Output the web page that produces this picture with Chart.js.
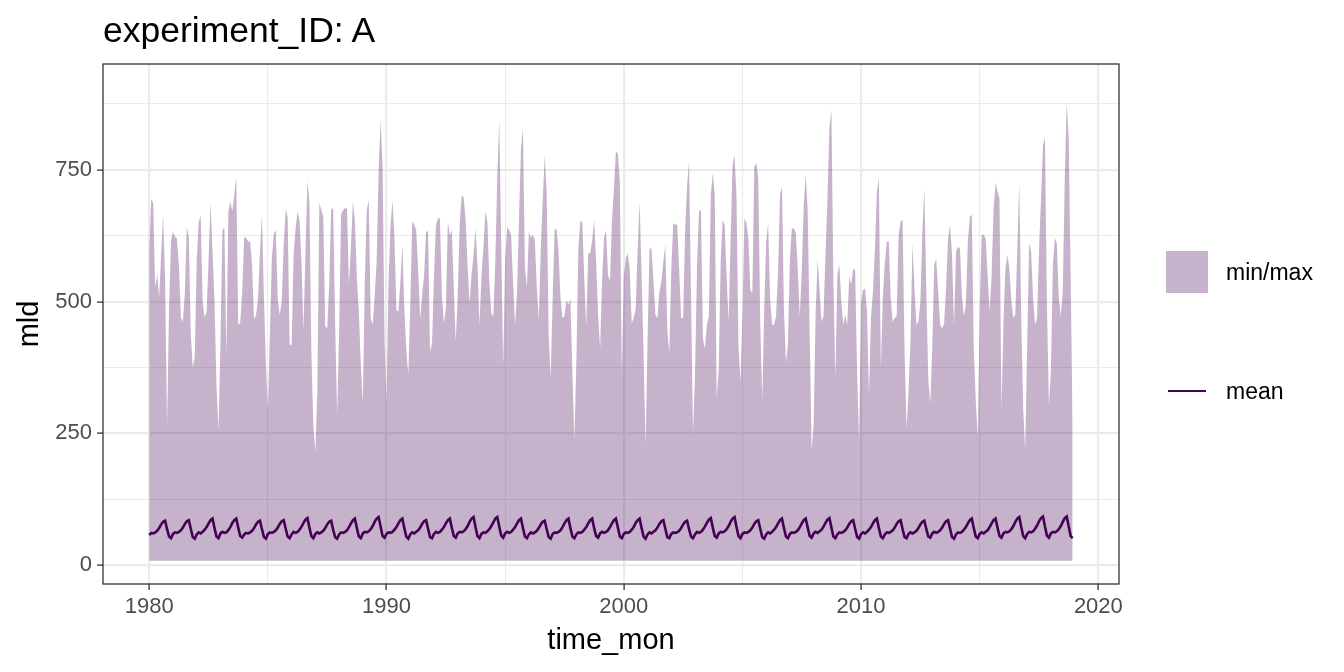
<!DOCTYPE html>
<html>
<head>
<meta charset="utf-8">
<script src="https://cdn.jsdelivr.net/npm/chart.js@4.4.0/dist/chart.umd.min.js"></script>
<style>
  html, body { margin: 0; padding: 0; background: #fff; }
  #wrap { position: relative; width: 1344px; height: 672px; font-family: "Liberation Sans", Arial, sans-serif; }
  #chart { position: absolute; left: 0; top: 0; }
  #title { position: absolute; left: 103px; top: 13px; font-size: 35.5px; line-height: 1; color: #000; white-space: nowrap; }
  .key-row { position: absolute; left: 1166px; height: 42px; display: flex; align-items: center; font-size: 23px; color: #000; }
  .key-box { width: 42px; height: 42px; background: rgba(68,1,84,0.3); }
  .key-line-wrap { width: 42px; height: 42px; display: flex; align-items: center; justify-content: center; }
  .key-line { width: 38px; height: 2.6px; background: #440154; }
  .key-row span { margin-left: 18px; }
</style>
</head>
<body>
<div id="wrap">
  <canvas id="chart" width="1344" height="672"></canvas>
  <div id="title">experiment_ID: A</div>
  <div class="key-row" style="top:251px"><div class="key-box"></div><span>min/max</span></div>
  <div class="key-row" style="top:370px"><div class="key-line-wrap"><div class="key-line"></div></div><span>mean</span></div>
</div>
<script>
const START_YEAR = 1980;          // first month = Jan 1980, one value per month
const RIBBON_MIN = 8;             // lower edge of the min/max band

// monthly max of mld, Jan 1980 .. Dec 2018
const maxMld = [
  595,695,687,527,552,508,590,665,540,266,486,615,633,623,620,566,470,462,517,642,623,440,375,396,
  579,651,664,500,470,481,582,687,595,500,342,256,424,636,640,396,671,690,672,703,737,456,
  460,518,622,621,614,614,570,466,475,506,597,666,506,383,297,440,582,629,636,503,475,500,608,675,
  660,418,418,589,639,671,655,573,446,595,729,690,402,263,215,332,687,674,661,453,449,533,675,678,462,
  285,440,665,674,677,677,532,604,690,655,544,481,380,307,540,674,693,469,456,510,576,750,845,756,
  427,307,540,642,693,621,484,481,537,608,487,408,361,494,652,646,636,563,466,513,551,633,633,405,
  421,551,646,658,658,513,459,487,652,626,636,529,424,513,646,703,697,655,566,497,551,589,639,570,
  456,548,604,671,652,537,478,472,576,734,848,604,380,582,642,636,626,537,456,518,658,791,829,563,
  528,633,621,627,617,527,466,601,693,778,706,437,354,506,636,639,595,506,469,472,503,494,506,367,
  237,386,601,652,652,544,453,592,592,617,655,576,475,411,540,621,636,551,538,652,715,785,781,728,
  364,547,582,592,563,459,469,487,598,690,551,402,228,427,601,601,538,475,469,519,538,576,608,446,
  402,560,649,646,646,560,469,469,633,722,766,513,250,358,566,671,674,430,411,456,472,703,744,703,
  316,373,579,655,646,547,462,617,760,778,699,418,348,475,658,649,620,522,516,756,763,734,462,313,
  487,614,649,506,456,456,472,557,703,718,481,386,418,582,639,639,630,560,472,560,684,741,674,440,
  218,266,478,582,525,462,472,589,696,832,864,535,354,551,570,500,456,475,456,548,532,563,560,364,
  237,500,522,525,481,323,469,519,601,709,734,373,510,573,614,614,506,462,469,472,627,652,655,405,
  259,329,430,611,525,456,462,500,633,715,519,351,307,415,570,582,519,456,449,459,528,620,646,589,
  453,595,604,601,510,472,494,614,661,665,408,313,244,487,627,627,620,551,481,548,677,725,709,696,
  294,462,563,589,563,500,469,475,601,728,469,297,218,418,611,595,506,456,469,601,696,797,810,494,
  304,367,570,621,611,506,472,519,731,880,810,548,256
];

// monthly mean of mld, one row per year 1980 .. 2018
const meanMld = [
  57,61,60,62,65,70,77,82,84,68,54,51,
  59,62,61,63,66,71,78,83,85,69,53,50,
  58,62,60,63,67,72,79,85,88,70,54,51,
  60,63,61,62,66,72,80,85,88,71,55,52,
  58,61,60,62,65,70,77,82,84,68,53,50,
  59,62,61,63,66,71,78,83,85,69,54,51,
  58,63,61,63,67,73,80,86,89,71,55,51,
  59,62,60,62,65,70,77,82,84,67,53,50,
  58,62,61,63,66,72,79,85,88,70,54,51,
  60,63,62,64,68,74,82,88,91,73,55,52,
  59,62,61,63,67,72,79,85,88,70,54,50,
  58,62,60,63,66,71,78,83,85,69,53,51,
  59,63,61,63,67,72,79,85,88,71,55,52,
  60,63,62,64,68,74,82,88,91,72,55,51,
  59,62,61,64,68,74,81,88,91,73,56,52,
  60,63,61,63,67,72,79,85,88,70,54,51,
  58,62,60,62,65,70,77,82,84,68,53,50,
  59,62,61,63,66,72,79,85,88,70,54,51,
  58,62,61,63,67,72,79,85,88,70,55,52,
  60,63,61,63,66,72,79,85,88,71,54,51,
  59,62,61,63,67,72,80,85,88,70,54,50,
  58,62,60,63,66,71,78,83,85,69,53,51,
  59,62,61,62,65,70,77,82,84,68,54,51,
  58,63,61,63,67,73,80,86,89,71,55,52,
  60,63,62,64,68,74,82,88,91,72,55,51,
  59,62,61,63,66,71,78,83,85,69,53,50,
  58,62,60,63,67,72,79,85,88,70,54,51,
  59,62,61,63,66,72,79,85,88,71,55,52,
  60,63,61,64,67,73,80,86,89,71,54,51,
  58,62,61,63,66,71,78,83,85,69,53,50,
  59,62,60,63,67,72,79,85,88,70,54,51,
  58,62,61,63,66,71,78,83,85,68,53,51,
  59,62,60,62,65,70,77,82,84,68,54,52,
  60,63,61,63,66,71,78,83,85,69,53,50,
  58,62,61,63,67,72,79,85,88,70,54,51,
  59,62,60,63,66,72,79,85,88,71,55,52,
  60,63,62,64,68,74,82,88,91,72,55,51,
  59,63,62,64,69,75,83,89,92,73,56,52,
  60,63,62,64,68,74,82,89,92,73,55,51
];

const xGridYears  = [1980, 1985, 1990, 1995, 2000, 2005, 2010, 2015, 2020];
const xTickLabels = [1980, 1990, 2000, 2010, 2020];
const yGridValues = [0, 125, 250, 375, 500, 625, 750, 875];
const yTickLabels = [0, 250, 500, 750];

const ribbonFill = 'rgba(68,1,84,0.3)';
const meanColour = '#440154';

Chart.defaults.font.family = '"Liberation Sans", Arial, sans-serif';

const toPoints = arr => arr.map((v, i) => ({ x: START_YEAR + i / 12, y: v }));

const panelBorder = {
  id: 'panelBorder',
  afterDraw(chart) {
    const { ctx, chartArea: a } = chart;
    ctx.save();
    ctx.strokeStyle = '#333333';
    ctx.lineWidth = 1.3;
    ctx.strokeRect(a.left, a.top, a.right - a.left, a.bottom - a.top);
    ctx.restore();
  }
};

function axisGrid(labels) {
  const major = c => c.tick && labels.includes(c.tick.value);
  return {
    color: '#ebebeb',
    lineWidth: c => major(c) ? 2.2 : 1.1,
    tickColor: c => major(c) ? '#333333' : 'rgba(0,0,0,0)',
    tickWidth: 1.3,
    tickLength: 6,
    drawTicks: true
  };
}

new Chart(document.getElementById('chart').getContext('2d'), {
  type: 'line',
  data: {
    datasets: [
      {
        label: 'mean',
        data: toPoints(meanMld),
        borderColor: meanColour,
        borderWidth: 2.6,
        pointRadius: 0,
        tension: 0,
        fill: false,
        order: 1
      },
      {
        label: 'min/max',
        data: toPoints(maxMld),
        borderColor: 'rgba(0,0,0,0)',
        borderWidth: 0,
        backgroundColor: ribbonFill,
        pointRadius: 0,
        tension: 0,
        fill: { value: RIBBON_MIN },
        order: 2
      }
    ]
  },
  options: {
    responsive: false,
    animation: false,
    layout: { padding: { left: 0, right: 225, top: 64, bottom: 0 } },
    plugins: { legend: { display: false }, tooltip: { enabled: false } },
    scales: {
      x: {
        type: 'linear',
        min: 1978.05,
        max: 2020.87,
        afterBuildTicks: s => { s.ticks = xGridYears.map(v => ({ value: v })); },
        afterFit: s => { s.height = 88; },
        ticks: {
          autoSkip: false, maxRotation: 0, padding: 4,
          color: '#4d4d4d', font: { size: 22 },
          callback: v => xTickLabels.includes(v) ? String(v) : ''
        },
        grid: axisGrid(xTickLabels),
        border: { display: false },
        title: { display: true, text: 'time_mon', color: '#000', font: { size: 29 }, padding: { top: 0, bottom: 14 } }
      },
      y: {
        type: 'linear',
        min: -36,
        max: 951,
        afterBuildTicks: s => { s.ticks = yGridValues.map(v => ({ value: v })); },
        afterFit: s => { s.width = 103; },
        ticks: {
          autoSkip: false, padding: 5,
          color: '#4d4d4d', font: { size: 22 },
          callback: v => yTickLabels.includes(v) ? String(v) : ''
        },
        grid: axisGrid(yTickLabels),
        border: { display: false },
        title: { display: true, text: 'mld', color: '#000', font: { size: 29 }, padding: { top: 13, bottom: 0 } }
      }
    }
  },
  plugins: [panelBorder]
});
</script>
</body>
</html>
